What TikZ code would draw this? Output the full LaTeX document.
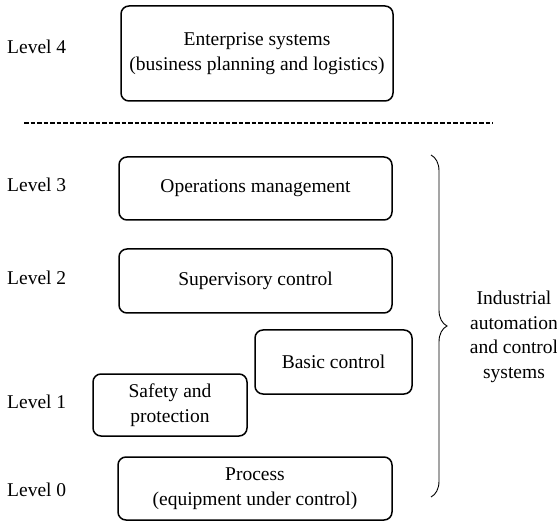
\documentclass[tikz,border=0pt]{standalone}
\usepackage{fontspec}
\setmainfont{Liberation Serif}
\usetikzlibrary{decorations.pathreplacing}
\begin{document}
\begin{tikzpicture}[x=1pt,y=-1pt,
  every node/.style={font=\fontsize{19.5}{24.5}\selectfont, inner sep=0pt},
  lvlbox/.style={draw, line width=1.5pt, rounded corners=8pt, align=center},
  lvllabel/.style={anchor=west},
  sepline/.style={line width=1.1pt, dash pattern=on 4.5pt off 2pt},
  bracestyle/.style={line width=0.9pt, decorate, decoration={brace, amplitude=16pt}}]
\useasboundingbox (0,0) rectangle (557,521);
% boxes
\node[lvlbox, minimum width=272pt, minimum height=95pt] (ent) at (257,53.5)
  {Enterprise systems\\(business planning and logistics)};
\node[lvlbox, minimum width=273pt, minimum height=63pt] (ops) at (255.5,188.5)
  {Operations management};
\node[lvlbox, minimum width=273pt, minimum height=64pt] (sup) at (255.5,281)
  {Supervisory control};
\node[lvlbox, minimum width=157pt, minimum height=64pt] (basic) at (333.5,362)
  {Basic control};
\node[lvlbox, minimum width=154pt, minimum height=62pt] (safety) at (170,405)
  {Safety and\\protection};
\node[lvlbox, minimum width=274pt, minimum height=63pt] (proc) at (255,488.5)
  {Process\\(equipment under control)};
% level labels
\node[lvllabel] (l4) at (7,47) {Level 4};
\node[lvllabel] (l3) at (7,185) {Level 3};
\node[lvllabel] (l2) at (7,278) {Level 2};
\node[lvllabel] (l1) at (7,402) {Level 1};
\node[lvllabel] (l0) at (7,490) {Level 0};
% separator
\coordinate (dl) at (24,123);
\coordinate (dr) at (493,123);
\draw[sepline] (dl) -- (dr);
% brace
\coordinate (bt) at (431,155);
\coordinate (bb) at (431,497);
\draw[bracestyle] (bt) -- (bb);
\node[align=center] (iacs) at (514,337) {Industrial\\automation\\and control\\systems};
\end{tikzpicture}
\end{document}
